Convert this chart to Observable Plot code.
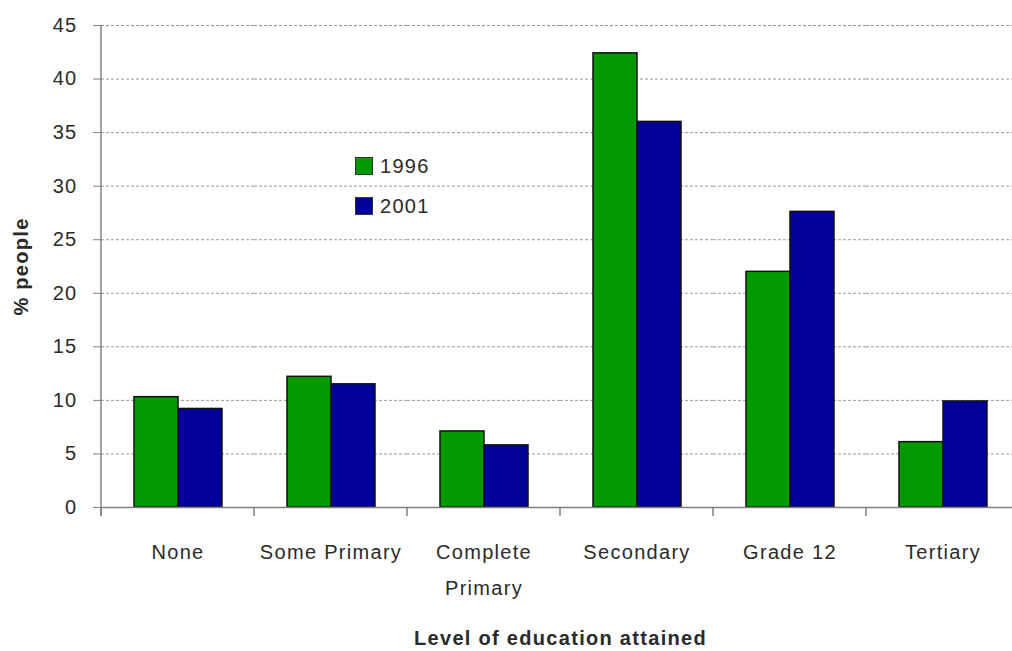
<!DOCTYPE html>
<html>
<head>
<meta charset="utf-8">
<script src="https://cdn.jsdelivr.net/npm/d3@7"></script>
<script src="https://cdn.jsdelivr.net/npm/@observablehq/plot@0.6"></script>
<style>
  body { margin: 0; background: #fff; }
  #chart { position: relative; width: 1012px; height: 651px; overflow: hidden; font-family: "Liberation Sans", Arial, sans-serif; }
  #chart svg { display: block; }
  .key { position: absolute; left: 355px; top: 157px; }
  .key-row { display: flex; align-items: center; height: 18px; margin-bottom: 22px; font-size: 20px; color: #2a2a2a; letter-spacing: 1.3px; }
  .key-swatch { width: 18px; height: 18px; box-sizing: border-box; border: 1px solid #333; margin-right: 7px; }
</style>
</head>
<body>
<div id="chart"></div>
<script>
// Share of people by highest level of education attained, 1996 vs 2001
const categories = ["None", "Some Primary", "Complete Primary", "Secondary", "Grade 12", "Tertiary"];
const categoryLabels = ["None", "Some Primary", "Complete\nPrimary", "Secondary", "Grade 12", "Tertiary"];
const years = ["1996", "2001"];
const values1996 = [10.3, 12.2, 7.1, 42.4, 22.0, 6.1];
const values2001 = [9.2, 11.5, 5.8, 36.0, 27.6, 9.9];
const yTicks = [0, 5, 10, 15, 20, 25, 30, 35, 40, 45];
const yearColors = ["#009900", "#000099"];

const rows = categories.flatMap((level, i) => [
  {level, year: years[0], pct: values1996[i]},
  {level, year: years[1], pct: values2001[i]}
]);

const plot = Plot.plot({
  width: 1012,
  height: 651,
  marginLeft: 99,
  marginRight: -8,
  marginTop: 25,
  marginBottom: 144,
  style: {fontFamily: "'Liberation Sans', Arial, sans-serif", color: "#2a2a2a", background: "#fff", letterSpacing: "1.3px"},
  fx: {domain: categories, padding: 0},
  x: {domain: years, paddingInner: 0, paddingOuter: 0.725, axis: null},
  y: {domain: [0, 45]},
  color: {domain: years, range: yearColors},
  marks: [
    Plot.gridY(yTicks, {stroke: "#9a9a9a", strokeOpacity: 1, strokeDasharray: "3,2"}),
    Plot.barY(rows, {fx: "level", x: "year", y: "pct", fill: "year", stroke: "#111", strokeWidth: 1.5}),
    Plot.ruleY([0], {stroke: "#808080", strokeWidth: 1.5}),
    Plot.axisY({ticks: yTicks, tickSize: 8, tickPadding: 16, fontSize: 20, stroke: "#808080", label: null}),
    Plot.axisY({ticks: [], label: "% people", labelAnchor: "center", labelArrow: "none", labelOffset: 88, fontSize: 20, fontWeight: "bold"}),
    Plot.axisFx({anchor: "bottom", tickSize: 0, tickPadding: 26, fontSize: 20, lineHeight: 1.8,
      tickFormat: (c) => categoryLabels[categories.indexOf(c)], label: null}),
    Plot.axisFx({anchor: "bottom", ticks: [], label: "Level of education attained", labelAnchor: "center", labelArrow: "none",
      labelOffset: 137, fontSize: 20, fontWeight: "bold"})
  ]
});

// Category boundary ticks and the vertical value axis, placed with the plot's own scales
const fx = plot.scale("fx");
const y = plot.scale("y");
const fxPos = (c) => fx.apply ? fx.apply(c) : fx.range[0] + categories.indexOf(c) * fx.step;
const yPos = (v) => y.apply ? y.apply(v) : y.range[0] + (v - y.domain[0]) / (y.domain[1] - y.domain[0]) * (y.range[1] - y.range[0]);
const y0 = yPos(0);
const yTop = yPos(yTicks[yTicks.length - 1]);
const edges = categories.map(fxPos).concat(fxPos(categories[categories.length - 1]) + fx.bandwidth);
const axisG = d3.select(plot).append("g").attr("stroke", "#808080").attr("stroke-width", 1.5);
axisG.selectAll("line.edge").data(edges).join("line")
  .attr("class", "edge")
  .attr("x1", (d) => d).attr("x2", (d) => d)
  .attr("y1", y0).attr("y2", y0 + 9);
axisG.append("line")
  .attr("x1", edges[0]).attr("x2", edges[0])
  .attr("y1", yTop).attr("y2", y0 + 9);

const chart = document.getElementById("chart");
chart.appendChild(plot);

// Series key
const color = plot.scale("color");
const key = d3.select(chart).append("div").attr("class", "key");
const keyRows = key.selectAll("div").data(years).join("div").attr("class", "key-row");
keyRows.append("div").attr("class", "key-swatch")
  .style("background", (d) => color.apply ? color.apply(d) : yearColors[years.indexOf(d)]);
keyRows.append("span").text((d) => d);
</script>
</body>
</html>
